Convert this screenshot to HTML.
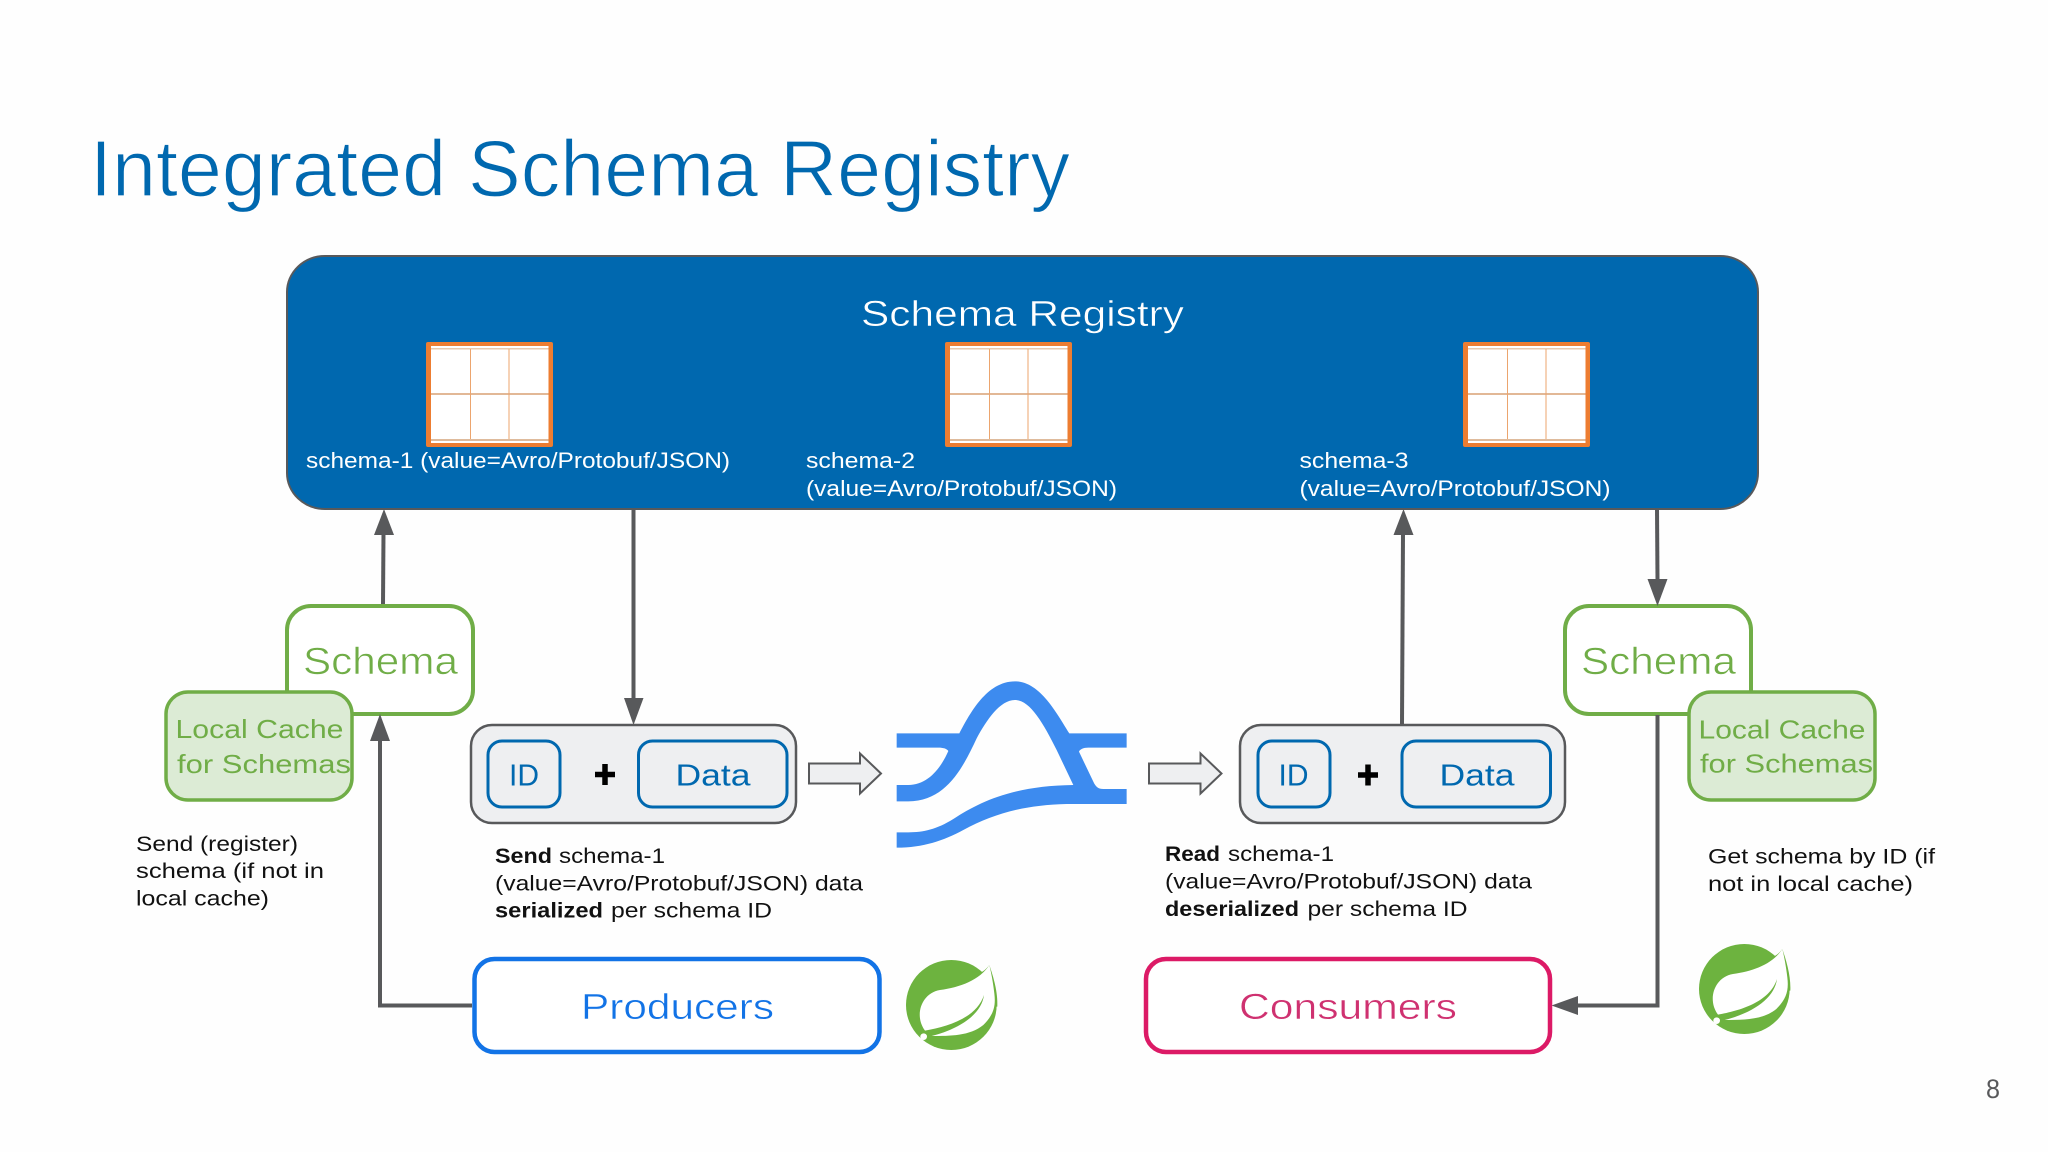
<!DOCTYPE html>
<html>
<head>
<meta charset="utf-8">
<title>Integrated Schema Registry</title>
<style>
html,body{margin:0;padding:0;background:#fefefe;width:2048px;height:1152px;overflow:hidden}
svg{display:block}
text{font-family:"Liberation Sans",sans-serif}
</style>
</head>
<body>
<svg xmlns="http://www.w3.org/2000/svg" width="2048" height="1152" viewBox="0 0 2048 1152">
<defs>
  <g id="tbl">
    <rect x="0" y="0" width="127" height="105" rx="2" fill="#ed7d31"/>
    <rect x="5" y="4" width="117.500" height="97" fill="#fff"/>
    <rect x="5" y="6" width="117.500" height="1.500" fill="#e9c9ad"/>
    <rect x="5" y="51" width="117.500" height="2" fill="#e2b896"/>
    <rect x="5" y="97" width="117.500" height="2" fill="#dfbb9c"/>
    <rect x="44" y="7" width="1" height="90" fill="#eca56e"/>
    <rect x="82.500" y="7" width="1" height="90" fill="#eca56e"/>
  </g>
  <g id="spring" transform="scale(.3333)">
    <path d="M262 72C280 66 290 56 298 45C310 80 324 125 322 170L250 170Z" fill="#6db33f"/>
    <ellipse cx="184" cy="165" rx="136" ry="135" fill="#6db33f"/>
    <path d="M298 45C270 90 210 112 150 120C105 128 85 170 90 205C92 220 98 232 105 242C170 230 260 205 282 135C275 190 215 235 125 258C180 258 240 258 280 225C310 195 318 170 313 130C309 95 303 65 298 45Z" fill="#fff"/>
    <circle cx="101" cy="260" r="10" fill="#fff"/>
  </g>
</defs>

<!-- Title -->
<text x="90" y="196" font-size="80" fill="#0068af" stroke="#fefefe" stroke-width="1.200" textLength="980" lengthAdjust="spacingAndGlyphs">Integrated Schema Registry</text>

<!-- Registry -->
<rect x="287" y="256" width="1471" height="253" rx="38" ry="36" fill="#0068af" stroke="#58595b" stroke-width="2"/>
<text x="861" y="326" font-size="36" fill="#fff" stroke="#0068af" stroke-width=".5" textLength="323" lengthAdjust="spacingAndGlyphs">Schema Registry</text>

<use href="#tbl" x="426" y="342"/>
<use href="#tbl" x="945" y="342"/>
<use href="#tbl" x="1463" y="342"/>

<g font-size="22" fill="#fff">
  <text x="306" y="468" textLength="424" lengthAdjust="spacingAndGlyphs">schema-1 (value=Avro/Protobuf/JSON)</text>
  <text x="806" y="468" textLength="109" lengthAdjust="spacingAndGlyphs">schema-2</text>
  <text x="806" y="496" textLength="311" lengthAdjust="spacingAndGlyphs">(value=Avro/Protobuf/JSON)</text>
  <text x="1299.500" y="468" textLength="109" lengthAdjust="spacingAndGlyphs">schema-3</text>
  <text x="1299.500" y="496" textLength="311" lengthAdjust="spacingAndGlyphs">(value=Avro/Protobuf/JSON)</text>
</g>

<!-- Left Schema + cache -->
<rect x="287" y="606" width="186" height="108" rx="24" fill="#fff" stroke="#70ad47" stroke-width="4"/>
<text x="303" y="674" font-size="38" fill="#70ad47" stroke="#fff" stroke-width=".6" textLength="155" lengthAdjust="spacingAndGlyphs">Schema</text>
<rect x="166" y="692" width="186" height="108" rx="22" fill="#dcebd5" stroke="#70ad47" stroke-width="3.500"/>
<text x="175.500" y="738" font-size="26" fill="#70ad47" textLength="168" lengthAdjust="spacingAndGlyphs">Local Cache</text>
<text x="177" y="773" font-size="26" fill="#70ad47" textLength="174" lengthAdjust="spacingAndGlyphs">for Schemas</text>

<!-- Right Schema + cache -->
<rect x="1565" y="606" width="186" height="108" rx="24" fill="#fff" stroke="#70ad47" stroke-width="4"/>
<text x="1581" y="674" font-size="38" fill="#70ad47" stroke="#fff" stroke-width=".6" textLength="155" lengthAdjust="spacingAndGlyphs">Schema</text>
<rect x="1689" y="692" width="186" height="108" rx="22" fill="#dcebd5" stroke="#70ad47" stroke-width="3.500"/>
<text x="1698.500" y="738.500" font-size="26" fill="#70ad47" textLength="167" lengthAdjust="spacingAndGlyphs">Local Cache</text>
<text x="1700" y="772.500" font-size="26" fill="#70ad47" textLength="173" lengthAdjust="spacingAndGlyphs">for Schemas</text>

<!-- Connectors -->
<g fill="none" stroke="#58595b" stroke-width="4">
  <path d="M383 604L383.500 533"/>
  <path d="M633.500 509V700"/>
  <path d="M1402 724L1403 533"/>
  <path d="M1657 509L1657.500 580"/>
  <path d="M472 1005.500H380V738"/>
  <path d="M1657.500 715V1005.500H1576"/>
</g>
<g fill="#58595b">
  <path d="M384 509L394 535H374Z"/>
  <path d="M633.500 725L624 698H643.500Z"/>
  <path d="M1403.500 509L1413.500 535H1393.500Z"/>
  <path d="M1657.500 606L1647.500 579H1667.500Z"/>
  <path d="M380 714L390 741H370Z"/>
  <path d="M1551.500 1005.500L1578 996V1015Z"/>
</g>

<!-- Left ID+Data -->
<rect x="471" y="725" width="325" height="98" rx="21" fill="#eeeff1" stroke="#58595b" stroke-width="2.500"/>
<rect x="488" y="741" width="72" height="66" rx="14" fill="#eeeff1" stroke="#0068af" stroke-width="3"/>
<rect x="638.500" y="741" width="148.500" height="66" rx="14" fill="#eeeff1" stroke="#0068af" stroke-width="3"/>
<text x="509" y="785.500" font-size="31" fill="#0068af" textLength="30" lengthAdjust="spacingAndGlyphs">ID</text>
<text x="675.500" y="785.500" font-size="31" fill="#0068af" textLength="75" lengthAdjust="spacingAndGlyphs">Data</text>
<path d="M595 774.500H615M605 764V785" stroke="#000" stroke-width="5.500" fill="none"/>

<!-- Right ID+Data -->
<rect x="1240" y="725" width="325" height="98" rx="21" fill="#eeeff1" stroke="#58595b" stroke-width="2.500"/>
<rect x="1258" y="741" width="72" height="66" rx="14" fill="#eeeff1" stroke="#0068af" stroke-width="3"/>
<rect x="1402" y="741" width="148.500" height="66" rx="14" fill="#eeeff1" stroke="#0068af" stroke-width="3"/>
<text x="1278.500" y="785.500" font-size="31" fill="#0068af" textLength="30" lengthAdjust="spacingAndGlyphs">ID</text>
<text x="1439.500" y="785.500" font-size="31" fill="#0068af" textLength="75" lengthAdjust="spacingAndGlyphs">Data</text>
<path d="M1358 775H1378M1368 764.500V785.500" stroke="#000" stroke-width="5.500" fill="none"/>

<!-- Hollow arrows -->
<path d="M809 763.500H860V753.500L881 773.500L860 793.500V783.500H809Z" fill="#eeeff1" stroke="#58595b" stroke-width="2"/>
<path d="M1149 763.500H1200.500V753.500L1221.500 773.500L1200.500 793.500V783.500H1149Z" fill="#eeeff1" stroke="#58595b" stroke-width="2"/>

<!-- Central logo -->
<path transform="translate(880 670) scale(.3333)" fill="#3d8bef" d="M50 190H238C270 130 320 34 405 34C480 34 530 130 568 190H740V233H625C610 233 600 238 597 245L640 335C648 352 655 357 670 357H740V402H560C430 405 340 432 250 480C190 512 130 533 50 533V487H85C130 487 170 478 220 447C300 395 400 347 580 345L530 240C490 160 450 90 405 90C360 90 320 150 290 205C250 290 200 394 85 394H50V345H85C140 345 180 300 205 243C200 236 190 233 175 233H50Z"/>

<!-- Annotation text -->
<g font-size="21.500" fill="#111">
  <text x="136" y="851" textLength="162" lengthAdjust="spacingAndGlyphs">Send (register)</text>
  <text x="136" y="878" textLength="188" lengthAdjust="spacingAndGlyphs">schema (if not in</text>
  <text x="136" y="905.500" textLength="133" lengthAdjust="spacingAndGlyphs">local cache)</text>

  <text x="495" y="863" font-weight="bold" textLength="57" lengthAdjust="spacingAndGlyphs">Send</text>
  <text x="559" y="863" textLength="106" lengthAdjust="spacingAndGlyphs">schema-1</text>
  <text x="495" y="890.500" textLength="368" lengthAdjust="spacingAndGlyphs">(value=Avro/Protobuf/JSON) data</text>
  <text x="495" y="917.500" font-weight="bold" textLength="108" lengthAdjust="spacingAndGlyphs">serialized</text>
  <text x="611" y="917.500" textLength="161" lengthAdjust="spacingAndGlyphs">per schema ID</text>

  <text x="1165" y="861" font-weight="bold" textLength="55" lengthAdjust="spacingAndGlyphs">Read</text>
  <text x="1228" y="861" textLength="106" lengthAdjust="spacingAndGlyphs">schema-1</text>
  <text x="1165" y="888.500" textLength="367" lengthAdjust="spacingAndGlyphs">(value=Avro/Protobuf/JSON) data</text>
  <text x="1165" y="916" font-weight="bold" textLength="134" lengthAdjust="spacingAndGlyphs">deserialized</text>
  <text x="1307.500" y="916" textLength="160" lengthAdjust="spacingAndGlyphs">per schema ID</text>

  <text x="1708" y="863.500" textLength="227" lengthAdjust="spacingAndGlyphs">Get schema by ID (if</text>
  <text x="1708" y="891" textLength="205" lengthAdjust="spacingAndGlyphs">not in local cache)</text>
</g>

<!-- Producers / Consumers -->
<rect x="474.500" y="959" width="405" height="93" rx="20" fill="#fff" stroke="#1273e6" stroke-width="4.500"/>
<text x="581" y="1019" font-size="36" fill="#1273e6" stroke="#fff" stroke-width=".5" textLength="193" lengthAdjust="spacingAndGlyphs">Producers</text>
<rect x="1146" y="959" width="404" height="93" rx="20" fill="#fff" stroke="#dc1a66" stroke-width="4.500"/>
<text x="1239" y="1019" font-size="36" fill="#cf3170" stroke="#fff" stroke-width=".5" textLength="218" lengthAdjust="spacingAndGlyphs">Consumers</text>

<!-- Spring logos -->
<use href="#spring" x="890" y="950"/>
<use href="#spring" x="1683" y="934"/>

<!-- Page number -->
<text x="1986" y="1098" font-size="27" fill="#58595b" textLength="14" lengthAdjust="spacingAndGlyphs">8</text>
</svg>
</body>
</html>
